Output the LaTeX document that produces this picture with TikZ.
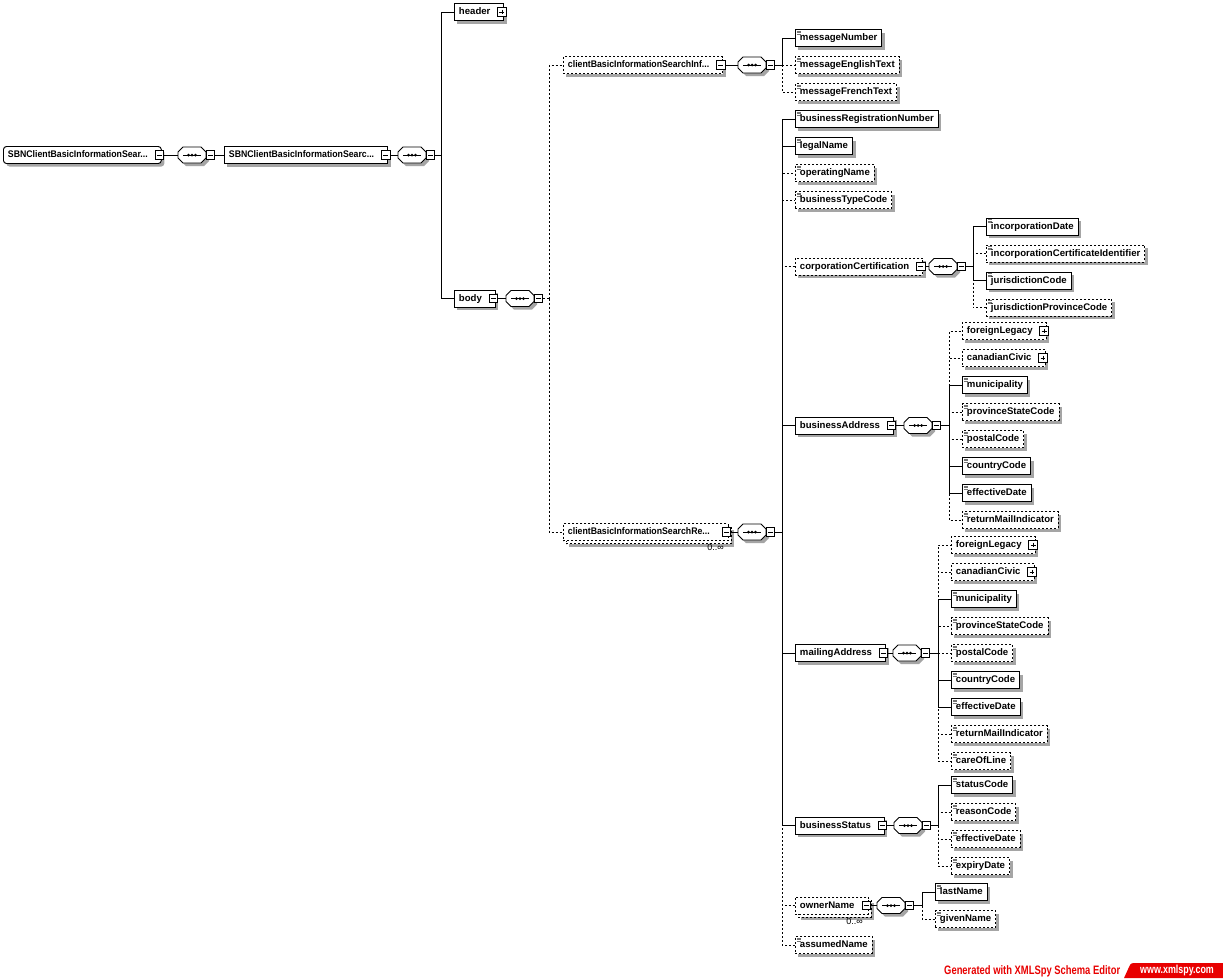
\documentclass[tikz,border=0pt]{standalone}
\usepackage{fontspec}
\setmainfont{Liberation Sans}
\usetikzlibrary{calc,shadows}
\definecolor{shgray}{RGB}{165,165,165}
\definecolor{xsred}{RGB}{232,0,0}
\tikzset{
  x=1pt, y=-1pt,
  conn/.style={line width=0.95pt},
  optconn/.style={conn, dash pattern=on 2pt off 2pt},
  box/.style={draw=black, fill=white, line width=0.95pt, font=\bfseries\fontsize{9.6}{10}\selectfont,
    minimum height=17pt, inner xsep=4.5pt, inner ysep=0pt, anchor=west, text height=7pt, text depth=2pt},
  shadowed/.style={drop shadow={shadow xshift=3pt, shadow yshift=-3pt, fill=shgray, opacity=1}},
  req/.style={box, shadowed},
  opt/.style={box, shadowed, dash pattern=on 2pt off 2pt},
  optnoshadow/.style={box, dash pattern=on 2pt off 2pt},
  leaf/.style={path picture={\draw[solid, line width=0.8pt, black!55]
      ([xshift=1.5pt,yshift=-1.6pt]path picture bounding box.north west) -- ++(4.5pt,0pt)
      ([xshift=1.5pt,yshift=-3.2pt]path picture bounding box.north west) -- ++(4.5pt,0pt)
      ([xshift=1.5pt,yshift=-4.8pt]path picture bounding box.north west) -- ++(4.5pt,0pt);}},
  pm/.style={draw=black, fill=white, solid, line width=0.7pt, minimum width=8.5pt, minimum height=8.5pt, inner sep=0pt},
  minus/.style={pm, path picture={\draw[line width=0.7pt]
      ([xshift=1.8pt]path picture bounding box.west) -- ([xshift=-1.8pt]path picture bounding box.east);}},
  plus/.style={pm, path picture={\draw[line width=0.7pt]
      ([xshift=1.8pt]path picture bounding box.west) -- ([xshift=-1.8pt]path picture bounding box.east)
      ([yshift=-1.8pt]path picture bounding box.north) -- ([yshift=1.8pt]path picture bounding box.south);}},
  seqbox/.style={minimum width=28pt, minimum height=16pt, inner sep=0pt},
  mult/.style={font=\fontsize{9}{10}\selectfont, anchor=north east, inner sep=0pt},
}
% leaf element: style, name, x, y, text
\newcommand\leafnode[5]{\node[#1,leaf] (#2) at (#3,#4) {#5};}
% parent element: style, name, x, y, text, pm-style
\newcommand\parnode[6]{\node[#1] (#2) at (#3,#4) {#5\rule{9pt}{0pt}};
  \node[#6] (#2-pm) at ($(#2.east)+(-2.5,0)$) {};}
% sequence compositor: name, xleft, y
\newcommand\seqnode[3]{%
  \node[seqbox] (#1) at (#2+14,#3) {};
  \fill[shgray, shift={(3,3)}] (#2,#3-3) -- (#2+5,#3-8) -- (#2+23,#3-8) -- (#2+28,#3-3) -- (#2+28,#3+3) -- (#2+23,#3+8) -- (#2+5,#3+8) -- (#2,#3+3) -- cycle;
  \draw[conn, fill=white] (#2,#3-3) -- (#2+5,#3-8) -- (#2+23,#3-8) -- (#2+28,#3-3) -- (#2+28,#3+3) -- (#2+23,#3+8) -- (#2+5,#3+8) -- (#2,#3+3) -- cycle;
  \draw[conn] (#2+5,#3) -- (#2+23,#3);
  \fill (#2+10.5,#3) circle (1.5) (#2+14,#3) circle (1.5) (#2+17.5,#3) circle (1.5);
  \node[minus] (#1-pm) at (#2+32.5,#3) {};}
\newcommand\squeeze[1]{\scalebox{0.91}[1]{#1}}
\begin{document}
\begin{tikzpicture}
\fill[white] (0,0) rectangle (1223,978);
\useasboundingbox (0,0) rectangle (1223,978);

% ---------- level 0/1 ----------
\parnode{req, rounded corners=3pt}{root}{3}{155}{\squeeze{SBNClientBasicInformationSear...}}{minus}
\seqnode{rootseq}{178}{155}
\parnode{req}{sbn}{224}{155}{\squeeze{SBNClientBasicInformationSearc...}}{minus}
\seqnode{sbnseq}{398}{155}
\coordinate (sbnbus) at (441,155);

\parnode{req}{header}{454}{12}{header}{plus}
\parnode{req}{body}{454}{298.5}{body}{minus}
\seqnode{bodyseq}{506}{298.5}
\coordinate (bodybus) at (549,298.5);

% ---------- info ----------
\parnode{opt}{inf}{563}{65}{\squeeze{clientBasicInformationSearchInf...}}{minus}
\seqnode{infseq}{738}{65}
\coordinate (infbus) at (782,65);
\leafnode{req}{msgnum}{795}{38}{messageNumber}
\leafnode{opt}{msgen}{795}{65}{messageEnglishText}
\leafnode{opt}{msgfr}{795}{92}{messageFrenchText}

% ---------- result (multiple) ----------
\node[opt, minimum width=165pt] (re-stack) at (566,535) {};
\node[optnoshadow, text width=156pt, align=left] (re) at (563,532) {\squeeze{clientBasicInformationSearchRe...}};
\node[minus] (re-pm) at ($(re.east)+(-2.5,0)$) {};
\node[mult] (re-mult) at (724,544.5) {0..∞};
\seqnode{reseq}{738}{532}
\coordinate (rebus) at (782,532);

\leafnode{req}{brn}{795}{119}{businessRegistrationNumber}
\leafnode{req}{legal}{795}{146}{legalName}
\leafnode{opt}{opname}{795}{173}{operatingName}
\leafnode{opt}{btc}{795}{200}{businessTypeCode}

% corporationCertification
\parnode{opt}{corp}{795}{266.5}{corporationCertification}{minus}
\seqnode{corpseq}{929}{266.5}
\coordinate (corpbus) at (973,266.5);
\leafnode{req}{incdate}{986}{226.5}{incorporationDate}
\leafnode{opt}{incid}{986}{253.5}{incorporationCertificateIdentifier}
\leafnode{req}{jcode}{986}{280.5}{jurisdictionCode}
\leafnode{opt}{jpcode}{986}{307.5}{jurisdictionProvinceCode}

% businessAddress
\parnode{req}{ba}{795}{425.5}{businessAddress}{minus}
\seqnode{baseq}{904}{425.5}
\coordinate (babus) at (949,425.5);
\parnode{opt}{ba-fl}{962}{331}{foreignLegacy}{plus}
\parnode{opt}{ba-cc}{962}{358}{canadianCivic}{plus}
\leafnode{req}{ba-mun}{962}{385}{municipality}
\leafnode{opt}{ba-psc}{962}{412}{provinceStateCode}
\leafnode{opt}{ba-pc}{962}{439}{postalCode}
\leafnode{req}{ba-cty}{962}{466}{countryCode}
\leafnode{req}{ba-eff}{962}{493}{effectiveDate}
\leafnode{opt}{ba-rmi}{962}{520}{returnMailIndicator}

% mailingAddress
\parnode{req}{ma}{795}{653}{mailingAddress}{minus}
\seqnode{maseq}{893}{653}
\coordinate (mabus) at (938,653);
\parnode{opt}{ma-fl}{951}{545}{foreignLegacy}{plus}
\parnode{opt}{ma-cc}{951}{572}{canadianCivic}{plus}
\leafnode{req}{ma-mun}{951}{599}{municipality}
\leafnode{opt}{ma-psc}{951}{626}{provinceStateCode}
\leafnode{opt}{ma-pc}{951}{653}{postalCode}
\leafnode{req}{ma-cty}{951}{680}{countryCode}
\leafnode{req}{ma-eff}{951}{707}{effectiveDate}
\leafnode{opt}{ma-rmi}{951}{734}{returnMailIndicator}
\leafnode{opt}{ma-col}{951}{761}{careOfLine}

% businessStatus
\parnode{req}{bs}{795}{825.5}{businessStatus}{minus}
\seqnode{bsseq}{894}{825.5}
\coordinate (bsbus) at (938,825.5);
\leafnode{req}{bs-sc}{951}{785}{statusCode}
\leafnode{opt}{bs-rc}{951}{812}{reasonCode}
\leafnode{opt}{bs-eff}{951}{839}{effectiveDate}
\leafnode{opt}{bs-exp}{951}{866}{expiryDate}

% ownerName (multiple)
\node[opt, minimum width=73pt] (on-stack) at (798,908.5) {};
\node[optnoshadow, text width=64pt, align=left] (on) at (795,905.5) {ownerName};
\node[minus] (on-pm) at ($(on.east)+(-2.5,0)$) {};
\node[mult] (on-mult) at (863,918) {0..∞};
\seqnode{onseq}{877}{905.5}
\coordinate (onbus) at (922,905.5);
\leafnode{req}{on-last}{935}{892}{lastName}
\leafnode{opt}{on-given}{935}{919}{givenName}

\leafnode{opt}{assumed}{795}{945}{assumedName}

% ---------- connectors ----------
\draw[conn] (root-pm.east) -- (rootseq.west);
\draw[conn] (rootseq-pm.east) -- (sbn.west);
\draw[conn] (sbn-pm.east) -- (sbnseq.west);
\draw[conn] (sbnseq-pm.east) -- (sbnbus);
\draw[conn] (sbnbus) |- (header.west);
\draw[conn] (sbnbus) |- (body.west);

\draw[conn] (body-pm.east) -- (bodyseq.west);
\draw[optconn] (bodyseq-pm.east) -- (bodybus);
\draw[optconn] (bodybus) |- (inf.west);
\draw[optconn] (bodybus) |- (re.west);

\draw[conn] (inf-pm.east) -- (infseq.west);
\draw[conn] (infseq-pm.east) -- (infbus);
\draw[optconn] (infbus) |- (msgen.west);
\draw[optconn] (infbus) |- (msgfr.west);
\draw[conn] (infbus) |- (msgnum.west);

\draw[conn] (re-pm.east) -- (reseq.west);
\draw[conn] (reseq-pm.east) -- (rebus);
\draw[optconn] (rebus) |- (opname.west);
\draw[optconn] (rebus) |- (btc.west);
\draw[optconn] (rebus) |- (corp.west);
\draw[optconn] (rebus) |- (on.west);
\draw[optconn] (rebus) |- (assumed.west);
\draw[conn] (rebus) |- (brn.west);
\draw[conn] (rebus) |- (legal.west);
\draw[conn] (rebus) |- (ba.west);
\draw[conn] (rebus) |- (ma.west);
\draw[conn] (rebus) |- (bs.west);

\draw[conn] (corp-pm.east) -- (corpseq.west);
\draw[conn] (corpseq-pm.east) -- (corpbus);
\draw[optconn] (corpbus) |- (incid.west);
\draw[optconn] (corpbus) |- (jpcode.west);
\draw[conn] (corpbus) |- (incdate.west);
\draw[conn] (corpbus) |- (jcode.west);

\draw[conn] (ba-pm.east) -- (baseq.west);
\draw[conn] (baseq-pm.east) -- (babus);
\draw[optconn] (babus) |- (ba-fl.west);
\draw[optconn] (babus) |- (ba-cc.west);
\draw[optconn] (babus) |- (ba-psc.west);
\draw[optconn] (babus) |- (ba-pc.west);
\draw[optconn] (babus) |- (ba-rmi.west);
\draw[conn] (babus) |- (ba-mun.west);
\draw[conn] (babus) |- (ba-cty.west);
\draw[conn] (babus) |- (ba-eff.west);

\draw[conn] (ma-pm.east) -- (maseq.west);
\draw[conn] (maseq-pm.east) -- (mabus);
\draw[optconn] (mabus) |- (ma-fl.west);
\draw[optconn] (mabus) |- (ma-cc.west);
\draw[optconn] (mabus) |- (ma-psc.west);
\draw[optconn] (mabus) |- (ma-pc.west);
\draw[optconn] (mabus) |- (ma-rmi.west);
\draw[optconn] (mabus) |- (ma-col.west);
\draw[conn] (mabus) |- (ma-mun.west);
\draw[conn] (mabus) |- (ma-cty.west);
\draw[conn] (mabus) |- (ma-eff.west);

\draw[conn] (bs-pm.east) -- (bsseq.west);
\draw[conn] (bsseq-pm.east) -- (bsbus);
\draw[optconn] (bsbus) |- (bs-rc.west);
\draw[optconn] (bsbus) |- (bs-eff.west);
\draw[optconn] (bsbus) |- (bs-exp.west);
\draw[conn] (bsbus) |- (bs-sc.west);

\draw[conn] (on-pm.east) -- (onseq.west);
\draw[conn] (onseq-pm.east) -- (onbus);
\draw[optconn] (onbus) |- (on-given.west);
\draw[conn] (onbus) |- (on-last.west);

% ---------- footer ----------
\node[anchor=west, text=xsred, font=\bfseries\fontsize{9.4}{10}\selectfont, inner sep=0pt] (gen) at (944,971)
  {\scalebox{1}[1.3]{Generated with XMLSpy Schema Editor}};
\fill[xsred] (1124,978) -- (1129,967) .. controls (1131,963) and (1131,963) .. (1137,963) -- (1223,963) -- (1223,978) -- cycle;
\node[text=white, font=\bfseries\fontsize{8.9}{10}\selectfont, inner sep=0pt] (url) at (1177,970.5)
  {\scalebox{1}[1.3]{www.xmlspy.com}};
\end{tikzpicture}
\end{document}
